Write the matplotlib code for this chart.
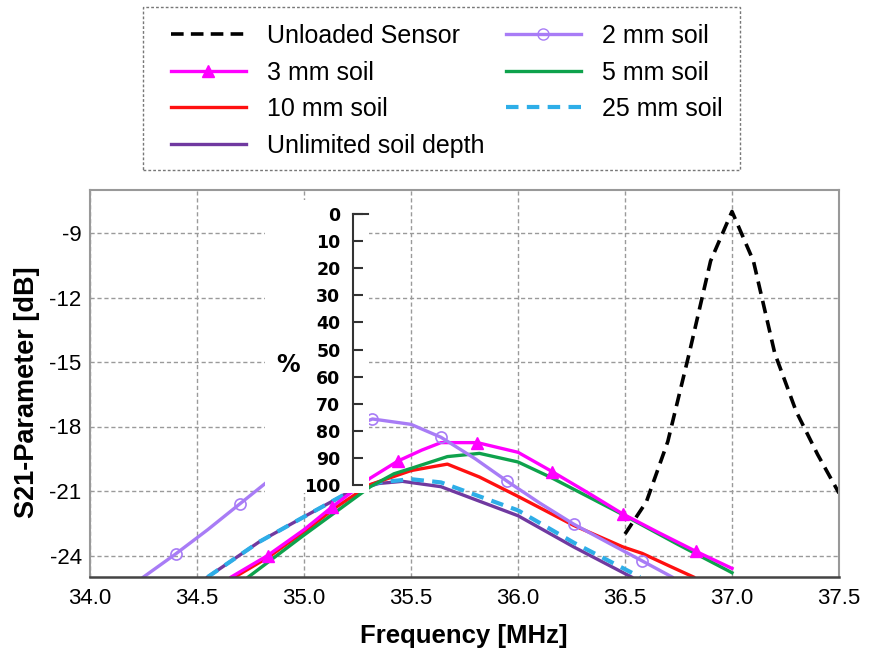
import matplotlib
matplotlib.use('Agg')
import matplotlib.pyplot as plt
from matplotlib.lines import Line2D
from matplotlib.patches import Rectangle

plt.rcParams['font.family'] = ['Liberation Sans', 'DejaVu Sans']
plt.rcParams['axes.unicode_minus'] = False

# --- data ---
unloaded_f = [36.5, 36.6, 36.7, 36.8, 36.9, 37.0, 37.1, 37.2, 37.3, 37.4, 37.5]
unloaded_s21 = [-23.0, -21.5, -18.7, -14.6, -10.3, -8.0, -10.3, -14.6, -17.3, -19.3, -21.1]

soil2_f = [34.25, 34.40, 34.55, 34.70, 34.85, 35.0, 35.15, 35.32, 35.50, 35.64, 35.80,
           35.95, 36.10, 36.26, 36.42, 36.58, 36.72]
soil2_s21 = [-25.0, -23.93, -22.8, -21.6, -20.4, -19.3, -18.3, -17.65, -17.9, -18.5, -19.5,
             -20.55, -21.55, -22.54, -23.4, -24.25, -25.0]
soil2_marks = [1, 3, 5, 7, 9, 11, 13, 15]

soil3_f = [34.66, 34.83, 35.0, 35.13, 35.31, 35.44, 35.55, 35.64, 35.81, 36.0, 36.16,
           36.33, 36.49, 36.66, 36.83, 37.0]
soil3_s21 = [-25.0, -24.0, -22.8, -21.75, -20.4, -19.6, -19.1, -18.75, -18.75, -19.2, -20.1,
             -21.1, -22.07, -22.95, -23.8, -24.6]
soil3_marks = [1, 3, 5, 8, 10, 12, 14]

soil5_f = [34.74, 35.0, 35.31, 35.42, 35.5, 35.67, 35.82, 36.0, 36.15, 36.49, 36.75, 37.0]
soil5_s21 = [-25.0, -23.05, -20.8, -20.2, -19.95, -19.4, -19.25, -19.65, -20.35, -22.1, -23.5, -24.8]

soil10_f = [34.66, 34.83, 35.0, 35.15, 35.31, 35.5, 35.67, 35.82, 36.0, 36.26, 36.49,
            36.58, 36.71, 36.82]
soil10_s21 = [-25.1, -24.1, -22.9, -21.75, -20.7, -20.05, -19.75, -20.35, -21.25, -22.6, -23.6,
              -23.9, -24.5, -25.0]

soil25_f = [34.55, 34.79, 35.0, 35.21, 35.35, 35.5, 35.64, 36.0, 36.26, 36.57]
soil25_s21 = [-25.0, -23.37, -22.2, -21.05, -20.6, -20.45, -20.6, -21.9, -23.4, -25.0]

unlim_f = [34.55, 34.79, 35.0, 35.21, 35.35, 35.46, 35.64, 36.0, 36.26, 36.53]
unlim_s21 = [-25.0, -23.37, -22.2, -21.05, -20.65, -20.55, -20.8, -22.15, -23.6, -25.0]

x_ticks = [34.0, 34.5, 35.0, 35.5, 36.0, 36.5, 37.0, 37.5]
y_ticks = [-24, -21, -18, -15, -12, -9]
pct_ticks = [0, 10, 20, 30, 40, 50, 60, 70, 80, 90, 100]

c_unloaded = 'black'
c_2mm = '#a87cf6'
c_3mm = '#ff00ff'
c_5mm = '#0ea24c'
c_10mm = '#ff1010'
c_25mm = '#2eaee8'
c_unlim = '#7039a0'

W, H = 870, 658
fig = plt.figure(figsize=(W / 100, H / 100), dpi=100)

def fx(px):
    return px / W

def fy(py):
    return 1 - py / H

ax = fig.add_axes([fx(90), fy(577), fx(839) - fx(90), fy(190) - fy(577)])
lw = 2.4

ax.plot(unlim_f, unlim_s21, color=c_unlim, lw=lw)
ax.plot(soil25_f, soil25_s21, color=c_25mm, lw=lw + 0.6, linestyle=(0, (3, 2)))
ax.plot(soil10_f, soil10_s21, color=c_10mm, lw=lw)
ax.plot(soil5_f, soil5_s21, color=c_5mm, lw=lw)
ax.plot(soil3_f, soil3_s21, color=c_3mm, lw=lw, marker='^', markersize=8,
        markevery=soil3_marks)
ax.plot(soil2_f, soil2_s21, color=c_2mm, lw=lw, marker='o', markersize=8,
        markerfacecolor='none', markeredgewidth=1.2, markevery=soil2_marks)
ax.plot(unloaded_f, unloaded_s21, color=c_unloaded, lw=lw + 0.2, linestyle=(0, (3.5, 2)))

ax.set_xlim(34.0, 37.5)
ax.set_ylim(-25, -7)
ax.set_xticks(x_ticks)
ax.set_xticklabels(['%.1f' % v for v in x_ticks])
ax.set_yticks(y_ticks)
ax.tick_params(axis='both', length=0, labelsize=16)
ax.tick_params(axis='x', pad=8)
ax.tick_params(axis='y', pad=6)
ax.grid(True, color='#9a9a9a', linestyle=(0, (3, 2)), linewidth=1)
for side in ['top', 'right', 'left']:
    ax.spines[side].set_color('#999999')
    ax.spines[side].set_linewidth(1.5)
ax.spines['bottom'].set_color('#444444')
ax.spines['bottom'].set_linewidth(1.8)

fig.text(fx(464), fy(636), 'Frequency [MHz]', fontsize=18.5, fontweight='bold',
         ha='center', va='center')
fig.text(fx(27), fy(392), 'S21-Parameter [dB]', fontsize=19.5, fontweight='bold',
         ha='center', va='center', rotation=90)

# white patch behind the inset scale
fig.add_artist(Rectangle((fx(265), fy(493)), fx(369) - fx(265), fy(200) - fy(493),
                         transform=fig.transFigure, facecolor='white', edgecolor='none',
                         zorder=1))

ax2 = fig.add_axes([fx(353), fy(485), fx(368) - fx(353), fy(214) - fy(485)], zorder=2)
ax2.patch.set_alpha(0)
ax2.set_ylim(100, 0)
ax2.set_yticks(pct_ticks)
ax2.set_xticks([])
ax2.spines['right'].set_visible(False)
ax2.spines['bottom'].set_visible(False)
for side in ['left', 'top']:
    ax2.spines[side].set_color('#333333')
    ax2.spines[side].set_linewidth(1.5)
ax2.tick_params(axis='y', direction='in', length=7, width=1.5, color='#333333', pad=9)
for lab in ax2.get_yticklabels():
    lab.set_fontfamily('DejaVu Sans')
    lab.set_fontweight('bold')
    lab.set_fontsize(12.5)
fig.text(fx(288), fy(365), '%', fontsize=17, fontweight='bold', family='DejaVu Sans',
         ha='center', va='center')

# legend
handles = [
    Line2D([], [], color=c_unloaded, lw=lw + 0.2, linestyle=(0, (3.5, 2))),
    Line2D([], [], color=c_3mm, lw=lw, marker='^', markersize=8),
    Line2D([], [], color=c_10mm, lw=lw),
    Line2D([], [], color=c_unlim, lw=lw),
    Line2D([], [], color=c_2mm, lw=lw, marker='o', markersize=8, markerfacecolor='none'),
    Line2D([], [], color=c_5mm, lw=lw),
    Line2D([], [], color=c_25mm, lw=lw + 0.6, linestyle=(0, (3, 2))),
]
labels = ['Unloaded Sensor', '3 mm soil', '10 mm soil', 'Unlimited soil depth',
          '2 mm soil', '5 mm soil', '25 mm soil']
fig.legend(handles, labels, ncol=2, loc='upper left',
           bbox_to_anchor=(fx(171), fy(24)), frameon=False, borderpad=0,
           borderaxespad=0, fontsize=18, handlelength=3.0, handletextpad=0.84,
           columnspacing=0.84, labelspacing=0.5)
fig.add_artist(Rectangle((fx(143), fy(170)), fx(740) - fx(143), fy(7) - fy(170),
                         transform=fig.transFigure, facecolor='none', edgecolor='#777777',
                         linewidth=1, linestyle=(0, (2, 1.5))))

fig.savefig('out.png', dpi=100)
